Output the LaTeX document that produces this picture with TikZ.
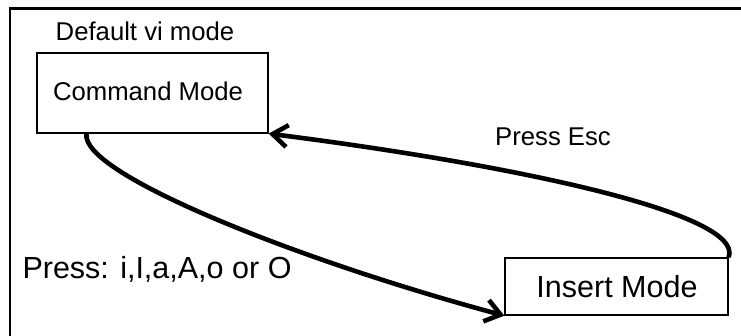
\documentclass[tikz,border=0pt]{standalone}
\usepackage{fontspec}
\setmainfont{Liberation Sans}
\usetikzlibrary{arrows.meta,calc}
\begin{document}
\begin{tikzpicture}[x=1pt,y=-1pt,
  modebox/.style={draw,line width=1.3pt,inner sep=0pt,anchor=center},
  lbl/.style={inner sep=0pt,anchor=center,font=\fontsize{25.7}{30}\selectfont},
  biglbl/.style={inner sep=0pt,anchor=center,font=\fontsize{30.5}{36}\selectfont},
  trans/.style={line width=4.6pt,-{Straight Barb[length=15pt,width=22pt,line width=4.6pt]}}]
\useasboundingbox (0,0) rectangle (741,335);
% outer frame
\coordinate (fbl) at (10,340);
\coordinate (ftl) at (10,8.5);
\coordinate (ftr) at (745,8.5);
\draw[line width=2.6pt] (fbl) -- (ftl) -- (ftr);
% boxes
\node[modebox,minimum width=231pt,minimum height=80pt] (cmd) at (152.5,93) {};
\node[lbl] (cmdt) at (148,91) {Command Mode};
\node[modebox,minimum width=223pt,minimum height=57pt] (ins) at (616.5,286.5) {};
\node[biglbl] (inst) at (617,287) {Insert Mode};
% labels
\node[lbl] (def) at (145,31) {Default vi mode};
\node[lbl] (esc) at (553,137) {Press Esc};
\node[biglbl] (press) at (157,269) {Press: i,I,a,A,o or O};
% connectors
\coordinate (cmdout) at ($(cmd.south west)!0.216!(cmd.south east)$);
\draw[trans] (cmdout) .. controls +(-7,40) and +(-205,-55) .. (ins.south west);
\draw[trans] (ins.north east) .. controls +(16,-43) and +(252,32) .. (cmd.south east);
\end{tikzpicture}
\end{document}
